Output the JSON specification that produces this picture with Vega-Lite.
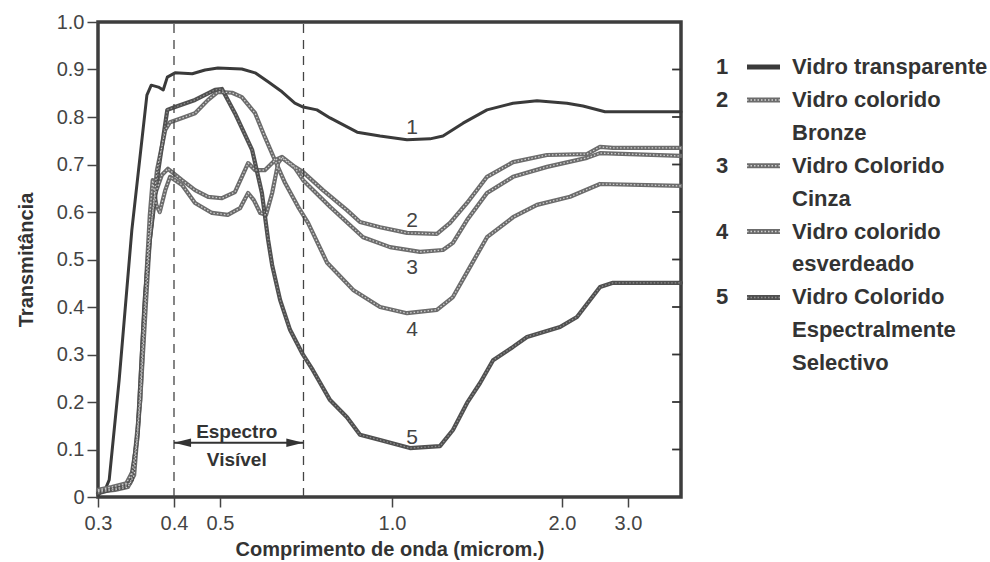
{
  "$schema": "https://vega.github.io/schema/vega-lite/v6.json",
  "background": "white",
  "padding": {"left": 14, "top": 10, "right": 0, "bottom": 0},
  "spacing": 26,
  "config": {
    "font": "Liberation Sans",
    "axis": {
      "grid": false,
      "domain": false,
      "labelFont": "Liberation Sans",
      "labelFontSize": 20,
      "labelColor": "#444",
      "tickColor": "#444",
      "tickWidth": 1.5,
      "titleFont": "Liberation Sans",
      "titleFontSize": 20,
      "titleFontWeight": "bold",
      "titleColor": "#333"
    }
  },
  "datasets": {
    "curvas": [
      {"serie":"1","wl":0.300,"T":0.004},{"serie":"1","wl":0.309,"T":0.019},{"serie":"1","wl":0.313,"T":0.036},{"serie":"1","wl":0.325,"T":0.246},{"serie":"1","wl":0.341,"T":0.562},{"serie":"1","wl":0.361,"T":0.846},{"serie":"1","wl":0.367,"T":0.867},{"serie":"1","wl":0.377,"T":0.863},{"serie":"1","wl":0.384,"T":0.857},{"serie":"1","wl":0.390,"T":0.884},{"serie":"1","wl":0.402,"T":0.893},{"serie":"1","wl":0.437,"T":0.891},{"serie":"1","wl":0.465,"T":0.899},{"serie":"1","wl":0.495,"T":0.903},{"serie":"1","wl":0.546,"T":0.901},{"serie":"1","wl":0.576,"T":0.893},{"serie":"1","wl":0.607,"T":0.874},{"serie":"1","wl":0.642,"T":0.853},{"serie":"1","wl":0.676,"T":0.829},{"serie":"1","wl":0.699,"T":0.821},{"serie":"1","wl":0.739,"T":0.815},{"serie":"1","wl":0.779,"T":0.798},{"serie":"1","wl":0.869,"T":0.768},{"serie":"1","wl":0.953,"T":0.760},{"serie":"1","wl":1.063,"T":0.752},{"serie":"1","wl":1.168,"T":0.754},{"serie":"1","wl":1.231,"T":0.760},{"serie":"1","wl":1.336,"T":0.787},{"serie":"1","wl":1.473,"T":0.815},{"serie":"1","wl":1.638,"T":0.829},{"serie":"1","wl":1.806,"T":0.834},{"serie":"1","wl":2.062,"T":0.829},{"serie":"1","wl":2.275,"T":0.823},{"serie":"1","wl":2.605,"T":0.811},{"serie":"1","wl":4.15,"T":0.811},
      {"serie":"2","wl":0.300,"T":0.013},{"serie":"2","wl":0.324,"T":0.019},{"serie":"2","wl":0.339,"T":0.029},{"serie":"2","wl":0.348,"T":0.120},{"serie":"2","wl":0.356,"T":0.352},{"serie":"2","wl":0.363,"T":0.520},{"serie":"2","wl":0.372,"T":0.636},{"serie":"2","wl":0.382,"T":0.678},{"serie":"2","wl":0.391,"T":0.691},{"serie":"2","wl":0.416,"T":0.667},{"serie":"2","wl":0.443,"T":0.646},{"serie":"2","wl":0.472,"T":0.632},{"serie":"2","wl":0.504,"T":0.629},{"serie":"2","wl":0.531,"T":0.642},{"serie":"2","wl":0.560,"T":0.703},{"serie":"2","wl":0.576,"T":0.688},{"serie":"2","wl":0.599,"T":0.688},{"serie":"2","wl":0.624,"T":0.709},{"serie":"2","wl":0.642,"T":0.716},{"serie":"2","wl":0.676,"T":0.695},{"serie":"2","wl":0.699,"T":0.684},{"serie":"2","wl":0.757,"T":0.646},{"serie":"2","wl":0.834,"T":0.604},{"serie":"2","wl":0.879,"T":0.579},{"serie":"2","wl":0.953,"T":0.568},{"serie":"2","wl":1.063,"T":0.556},{"serie":"2","wl":1.201,"T":0.554},{"serie":"2","wl":1.267,"T":0.577},{"serie":"2","wl":1.358,"T":0.619},{"serie":"2","wl":1.473,"T":0.674},{"serie":"2","wl":1.638,"T":0.705},{"serie":"2","wl":1.881,"T":0.720},{"serie":"2","wl":2.332,"T":0.722},{"serie":"2","wl":2.526,"T":0.737},{"serie":"2","wl":2.736,"T":0.735},{"serie":"2","wl":4.15,"T":0.735},
      {"serie":"3","wl":0.300,"T":0.015},{"serie":"3","wl":0.316,"T":0.021},{"serie":"3","wl":0.334,"T":0.029},{"serie":"3","wl":0.343,"T":0.057},{"serie":"3","wl":0.352,"T":0.204},{"serie":"3","wl":0.360,"T":0.457},{"serie":"3","wl":0.365,"T":0.594},{"serie":"3","wl":0.369,"T":0.667},{"serie":"3","wl":0.374,"T":0.615},{"serie":"3","wl":0.379,"T":0.600},{"serie":"3","wl":0.387,"T":0.646},{"serie":"3","wl":0.394,"T":0.674},{"serie":"3","wl":0.416,"T":0.657},{"serie":"3","wl":0.443,"T":0.619},{"serie":"3","wl":0.481,"T":0.598},{"serie":"3","wl":0.516,"T":0.594},{"serie":"3","wl":0.542,"T":0.608},{"serie":"3","wl":0.560,"T":0.640},{"serie":"3","wl":0.573,"T":0.625},{"serie":"3","wl":0.588,"T":0.598},{"serie":"3","wl":0.602,"T":0.594},{"serie":"3","wl":0.617,"T":0.640},{"serie":"3","wl":0.632,"T":0.703},{"serie":"3","wl":0.642,"T":0.714},{"serie":"3","wl":0.676,"T":0.693},{"serie":"3","wl":0.699,"T":0.667},{"serie":"3","wl":0.779,"T":0.611},{"serie":"3","wl":0.890,"T":0.547},{"serie":"3","wl":0.992,"T":0.526},{"serie":"3","wl":1.121,"T":0.516},{"serie":"3","wl":1.231,"T":0.520},{"serie":"3","wl":1.282,"T":0.535},{"serie":"3","wl":1.358,"T":0.583},{"serie":"3","wl":1.473,"T":0.640},{"serie":"3","wl":1.638,"T":0.674},{"serie":"3","wl":1.881,"T":0.695},{"serie":"3","wl":2.332,"T":0.714},{"serie":"3","wl":2.526,"T":0.724},{"serie":"3","wl":4.15,"T":0.718},
      {"serie":"4","wl":0.300,"T":0.011},{"serie":"4","wl":0.320,"T":0.015},{"serie":"4","wl":0.336,"T":0.021},{"serie":"4","wl":0.344,"T":0.046},{"serie":"4","wl":0.352,"T":0.204},{"serie":"4","wl":0.360,"T":0.415},{"serie":"4","wl":0.365,"T":0.541},{"serie":"4","wl":0.375,"T":0.688},{"serie":"4","wl":0.387,"T":0.773},{"serie":"4","wl":0.394,"T":0.789},{"serie":"4","wl":0.416,"T":0.798},{"serie":"4","wl":0.443,"T":0.808},{"serie":"4","wl":0.472,"T":0.836},{"serie":"4","wl":0.495,"T":0.853},{"serie":"4","wl":0.525,"T":0.851},{"serie":"4","wl":0.546,"T":0.842},{"serie":"4","wl":0.576,"T":0.808},{"serie":"4","wl":0.599,"T":0.758},{"serie":"4","wl":0.624,"T":0.709},{"serie":"4","wl":0.650,"T":0.661},{"serie":"4","wl":0.685,"T":0.611},{"serie":"4","wl":0.713,"T":0.577},{"serie":"4","wl":0.770,"T":0.493},{"serie":"4","wl":0.855,"T":0.436},{"serie":"4","wl":0.953,"T":0.400},{"serie":"4","wl":1.063,"T":0.387},{"serie":"4","wl":1.201,"T":0.394},{"serie":"4","wl":1.282,"T":0.421},{"serie":"4","wl":1.374,"T":0.484},{"serie":"4","wl":1.473,"T":0.547},{"serie":"4","wl":1.638,"T":0.589},{"serie":"4","wl":1.806,"T":0.615},{"serie":"4","wl":2.101,"T":0.632},{"serie":"4","wl":2.526,"T":0.659},{"serie":"4","wl":4.15,"T":0.655},
      {"serie":"5","wl":0.300,"T":0.008},{"serie":"5","wl":0.314,"T":0.015},{"serie":"5","wl":0.332,"T":0.021},{"serie":"5","wl":0.341,"T":0.036},{"serie":"5","wl":0.349,"T":0.141},{"serie":"5","wl":0.358,"T":0.415},{"serie":"5","wl":0.365,"T":0.541},{"serie":"5","wl":0.377,"T":0.688},{"serie":"5","wl":0.390,"T":0.815},{"serie":"5","wl":0.402,"T":0.821},{"serie":"5","wl":0.443,"T":0.836},{"serie":"5","wl":0.488,"T":0.857},{"serie":"5","wl":0.504,"T":0.859},{"serie":"5","wl":0.531,"T":0.808},{"serie":"5","wl":0.569,"T":0.731},{"serie":"5","wl":0.592,"T":0.640},{"serie":"5","wl":0.607,"T":0.541},{"serie":"5","wl":0.617,"T":0.488},{"serie":"5","wl":0.637,"T":0.415},{"serie":"5","wl":0.663,"T":0.352},{"serie":"5","wl":0.696,"T":0.303},{"serie":"5","wl":0.727,"T":0.267},{"serie":"5","wl":0.779,"T":0.204},{"serie":"5","wl":0.834,"T":0.168},{"serie":"5","wl":0.879,"T":0.131},{"serie":"5","wl":0.953,"T":0.120},{"serie":"5","wl":1.076,"T":0.103},{"serie":"5","wl":1.216,"T":0.107},{"serie":"5","wl":1.282,"T":0.141},{"serie":"5","wl":1.358,"T":0.198},{"serie":"5","wl":1.432,"T":0.240},{"serie":"5","wl":1.510,"T":0.288},{"serie":"5","wl":1.638,"T":0.316},{"serie":"5","wl":1.734,"T":0.337},{"serie":"5","wl":1.984,"T":0.358},{"serie":"5","wl":2.193,"T":0.379},{"serie":"5","wl":2.526,"T":0.442},{"serie":"5","wl":2.736,"T":0.451},{"serie":"5","wl":4.15,"T":0.451}
    ],
    "legenda": [
      {"id":"1a","serie":"1","primeira":true,"txt":"Vidro transparente"},
      {"id":"2a","serie":"2","primeira":true,"txt":"Vidro colorido"},
      {"id":"2b","serie":"2","primeira":false,"txt":"Bronze"},
      {"id":"3a","serie":"3","primeira":true,"txt":"Vidro Colorido"},
      {"id":"3b","serie":"3","primeira":false,"txt":"Cinza"},
      {"id":"4a","serie":"4","primeira":true,"txt":"Vidro colorido"},
      {"id":"4b","serie":"4","primeira":false,"txt":"esverdeado"},
      {"id":"5a","serie":"5","primeira":true,"txt":"Vidro Colorido"},
      {"id":"5b","serie":"5","primeira":false,"txt":"Espectralmente"},
      {"id":"5c","serie":"5","primeira":false,"txt":"Selectivo"}
    ]
  },
  "hconcat": [
    {
      "width": 583,
      "height": 475,
      "view": {"stroke": "#3d3d3d", "strokeWidth": 3.5},
      "layer": [
        {
          "data": {"name": "curvas"},
          "mark": {"type": "line", "strokeJoin": "round", "strokeCap": "round"},
          "encoding": {
            "x": {
              "field": "wl", "type": "quantitative",
              "scale": {"type": "log", "domain": [0.3, 0.4, 0.5, 1, 2, 3, 4.15], "range": [0, 76, 122, 294, 464, 530, 583], "nice": false},
              "axis": {"title": "Comprimento de onda (microm.)", "values": [0.3, 0.4, 0.5, 1, 2, 3], "labelExpr": "format(datum.value, '.1f')", "tickSize": 10, "labelPadding": 6, "titlePadding": 6, "labelFlush": false, "labelOverlap": false}
            },
            "y": {
              "field": "T", "type": "quantitative",
              "scale": {"domain": [0, 1], "nice": false, "zero": true},
              "axis": {"title": "Transmitância", "values": [0, 0.1, 0.2, 0.3, 0.4, 0.5, 0.6, 0.7, 0.8, 0.9, 1], "labelExpr": "datum.value == 0 ? '0' : format(datum.value, '.1f')", "tickSize": 11, "labelPadding": 3, "titlePadding": 20, "labelFlush": false, "labelOverlap": false}
            },
            "detail": {"field": "serie"},
            "stroke": {"condition": [{"test": "datum.serie == '1'", "value": "#3a3a3a"}, {"test": "datum.serie == '5'", "value": "#505050"}], "value": "#6c6c6c"},
            "strokeWidth": {"condition": {"test": "datum.serie == '1'", "value": 3}, "value": 4.2}
          }
        },
        {
          "data": {"name": "curvas"},
          "transform": [{"filter": "datum.serie != '1'"}],
          "mark": {"type": "line", "strokeDash": [1.5, 2], "strokeWidth": 1.3},
          "encoding": {
            "x": {"field": "wl", "type": "quantitative"},
            "y": {"field": "T", "type": "quantitative"},
            "detail": {"field": "serie"},
            "stroke": {"condition": {"test": "datum.serie == '5'", "value": "#8e8e8e"}, "value": "#cfcfcf"}
          }
        },
        {
          "data": {"values": [{"v": 0.1}, {"v": 0.2}, {"v": 0.3}, {"v": 0.4}, {"v": 0.5}, {"v": 0.6}, {"v": 0.7}, {"v": 0.8}, {"v": 0.9}]},
          "mark": {"type": "rule", "color": "#333", "strokeWidth": 1.8},
          "encoding": {
            "x": {"datum": 3.93, "type": "quantitative"},
            "x2": {"datum": 4.15},
            "y": {"field": "v", "type": "quantitative"}
          }
        },
        {
          "data": {"values": [{"wl": 0.4}, {"wl": 0.7}]},
          "mark": {"type": "rule", "strokeDash": [9, 7], "color": "#444", "strokeWidth": 1.3},
          "encoding": {
            "x": {"field": "wl", "type": "quantitative"},
            "y": {"datum": 0, "type": "quantitative"},
            "y2": {"datum": 1}
          }
        },
        {
          "data": {"values": [{}]},
          "mark": {"type": "rule", "color": "#333", "strokeWidth": 2},
          "encoding": {
            "x": {"datum": 0.4, "type": "quantitative"},
            "x2": {"datum": 0.7},
            "y": {"datum": 0.114, "type": "quantitative"}
          }
        },
        {
          "data": {"values": [{"wl": 0.417, "lado": "esq"}, {"wl": 0.676, "lado": "dir"}]},
          "mark": {"type": "point", "filled": true, "size": 289, "color": "#333", "opacity": 1},
          "encoding": {
            "x": {"field": "wl", "type": "quantitative"},
            "y": {"datum": 0.114, "type": "quantitative"},
            "shape": {"field": "lado", "type": "nominal", "scale": {"domain": ["esq", "dir"], "range": ["M-1,0L1,-0.5L1,0.5Z", "M1,0L-1,-0.5L-1,0.5Z"]}, "legend": null}
          }
        },
        {
          "data": {"values": [{"wl": 0.535, "T": 0.136, "txt": "Espectro"}, {"wl": 0.535, "T": 0.077, "txt": "Visível"}]},
          "mark": {"type": "text", "fontSize": 19, "fontWeight": "bold", "color": "#333", "baseline": "middle", "align": "center"},
          "encoding": {
            "x": {"field": "wl", "type": "quantitative"},
            "y": {"field": "T", "type": "quantitative"},
            "text": {"field": "txt"}
          }
        },
        {
          "data": {"values": [{"wl": 1.085, "T": 0.776, "n": "1"}, {"wl": 1.085, "T": 0.582, "n": "2"}, {"wl": 1.085, "T": 0.482, "n": "3"}, {"wl": 1.085, "T": 0.352, "n": "4"}, {"wl": 1.085, "T": 0.124, "n": "5"}]},
          "mark": {"type": "text", "fontSize": 21, "color": "#444", "baseline": "middle", "align": "center"},
          "encoding": {
            "x": {"field": "wl", "type": "quantitative"},
            "y": {"field": "T", "type": "quantitative"},
            "text": {"field": "n"}
          }
        }
      ]
    },
    {
      "width": 270,
      "height": 362,
      "view": {"stroke": null},
      "data": {"name": "legenda"},
      "encoding": {
        "y": {"field": "id", "type": "ordinal", "scale": {"type": "point", "padding": 1, "align": 0.684, "domain": ["1a","2a","2b","3a","3b","4a","4b","5a","5b","5c"]}, "axis": null}
      },
      "layer": [
        {
          "mark": {"type": "text", "align": "left", "baseline": "middle", "fontWeight": "bold", "fontSize": 22, "color": "#333"},
          "encoding": {
            "x": {"datum": 8, "type": "quantitative", "scale": {"domain": [0, 27], "nice": false, "zero": false}, "axis": null},
            "text": {"field": "txt"}
          }
        },
        {
          "transform": [{"filter": "datum.primeira"}],
          "mark": {"type": "text", "align": "center", "baseline": "middle", "fontWeight": "bold", "fontSize": 22, "color": "#333"},
          "encoding": {
            "x": {"datum": 1, "type": "quantitative"},
            "text": {"field": "serie"}
          }
        },
        {
          "transform": [{"filter": "datum.primeira"}],
          "mark": {"type": "rule", "strokeCap": "butt", "strokeWidth": 5},
          "encoding": {
            "x": {"datum": 3.5, "type": "quantitative"},
            "x2": {"datum": 6.8},
            "stroke": {"condition": [{"test": "datum.serie == '1'", "value": "#3a3a3a"}, {"test": "datum.serie == '5'", "value": "#505050"}], "value": "#6c6c6c"}
          }
        },
        {
          "transform": [{"filter": "datum.primeira && datum.serie != '1'"}],
          "mark": {"type": "rule", "strokeCap": "butt", "strokeWidth": 1.5, "strokeDash": [1.5, 2]},
          "encoding": {
            "x": {"datum": 3.5, "type": "quantitative"},
            "x2": {"datum": 6.8},
            "stroke": {"condition": {"test": "datum.serie == '5'", "value": "#8e8e8e"}, "value": "#cfcfcf"}
          }
        }
      ]
    }
  ]
}
